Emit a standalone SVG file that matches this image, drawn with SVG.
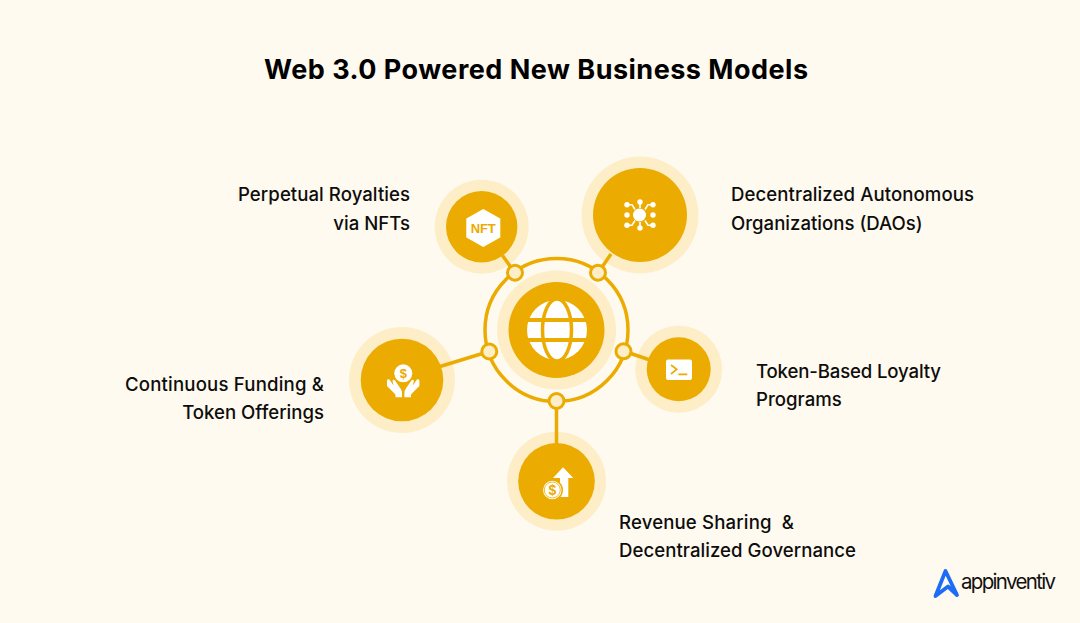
<svg xmlns="http://www.w3.org/2000/svg" width="1080" height="623" viewBox="0 0 1080 623">
<style>
.t{font-family:Inter,"Noto Sans",sans-serif;font-size:18.6px;font-weight:500;fill:#0d0d0d;white-space:pre}
.title{font-family:Inter,"Noto Sans",sans-serif;font-size:27px;font-weight:700;fill:#000}
.e{text-anchor:end}
.pale{fill:#fdeec8}
.gold{fill:#ebab00}
.w{fill:#fff}
.link{stroke:#ebab00;stroke-width:3.5;fill:none}
.dot{fill:#fdeec8;stroke:#ebab00;stroke-width:3}
.gl{stroke:#ebab00;fill:none}
.wl{stroke:#fff;fill:none;stroke-width:1.6}
.sym{font-family:"Liberation Sans",sans-serif;font-weight:700;fill:#ebab00;text-anchor:middle}
</style>
<rect width="1080" height="623" fill="#fffaef"/>
<text class="title" x="536" y="79" text-anchor="middle" textLength="544">Web 3.0 Powered New Business Models</text>
<g id="hub">
<circle cx="556.5" cy="330" r="71.5" fill="none" stroke="#ebab00" stroke-width="3.5"/>
<circle class="pale" cx="556.5" cy="330" r="59.5"/>
<circle class="gold" cx="556.5" cy="330" r="48"/>
<circle class="w" cx="557" cy="330" r="30"/>
<ellipse class="gl" stroke-width="3.5" cx="557" cy="330" rx="14.5" ry="31"/>
<line class="gl" stroke-width="3.8" x1="525" y1="320" x2="589" y2="320"/>
<line class="gl" stroke-width="3.8" x1="525" y1="340" x2="589" y2="340"/>
</g>
<g id="node-nft">
<circle class="pale" cx="481.7" cy="226.7" r="47"/>
<circle class="gold" cx="481.7" cy="226.7" r="35.7"/>
<path class="w" stroke="#fff" stroke-width="2" stroke-linejoin="round" d="M483.3 210L499.3 219V237L483.3 246L467.3 237V219Z"/>
<text class="sym" x="483.3" y="232.700" font-size="13" textLength="25">NFT</text>
</g>
<g id="node-dao">
<circle class="pale" cx="640" cy="215" r="58.5"/>
<circle class="gold" cx="640" cy="215" r="47"/>
<circle class="w" cx="639.5" cy="215" r="6.5"/>
<g class="w">
<circle cx="640" cy="202" r="2.7"/><circle cx="640" cy="228" r="2.7"/>
<circle cx="627" cy="215" r="2.7"/><circle cx="653" cy="215" r="2.7"/>
<circle cx="627" cy="204.7" r="2.7"/><circle cx="653" cy="204.7" r="2.7"/>
<circle cx="627" cy="225.3" r="2.7"/><circle cx="653" cy="225.3" r="2.7"/>
</g>
<path class="wl" d="M627 204.7H632L635 209.5M653 204.7H648L645 209.5M627 225.3H632L635 220.5M653 225.3H648L645 220.5M640 202V208M640 228V222"/>
</g>
<g id="node-token">
<circle class="pale" cx="678.7" cy="369.3" r="43.5"/>
<circle class="gold" cx="678.7" cy="369.3" r="32"/>
<rect class="w" x="666" y="359.5" width="26" height="20.5" rx="2"/>
<path class="gl" stroke-width="1.7" d="M671 365L676.7 369.3L671 374M678.3 374.3H687.3"/>
</g>
<g id="node-funding">
<circle class="pale" cx="402" cy="380" r="53"/>
<circle class="gold" cx="402" cy="380" r="41.3"/>
<circle class="w" cx="403.3" cy="373.3" r="9"/>
<text class="sym" x="403.3" y="378" font-size="13">$</text>
<path class="w" d="M387 386V380.5Q387.5 378.500 389.500 379.500L393.500 385.500L392.500 380.500Q393.500 379 395 380.500L400.500 388.500Q402 390.500 402 393V397.300H395.500V395Q395 393.500 393.500 392.500Z"/>
<path class="w" d="M419.400 386V380.500Q418.900 378.500 416.900 379.500L412.900 385.500L413.900 380.500Q412.900 379 411.400 380.500L405.900 388.500Q404.400 390.500 404.400 393V397.300H410.900V395Q411.400 393.500 412.900 392.500Z"/>
</g>
<g id="node-revenue">
<circle class="pale" cx="556.500" cy="481.300" r="49.500"/>
<circle class="gold" cx="556.500" cy="481.300" r="38.300"/>
<path class="w" d="M563 467.300L573.300 478H568.300V497H560V478H553Z"/>
<circle class="w" stroke="#ebab00" stroke-width="1.500" cx="552.300" cy="490" r="10"/>
<circle fill="none" stroke="#ebab00" stroke-width=".8" cx="552.300" cy="490" r="8"/>
<text class="sym" x="552.300" y="495" font-size="14" font-weight="400">$</text>
</g>
<g id="connectors">
<line class="link" x1="502.500" y1="255.500" x2="515" y2="273"/>
<line class="link" x1="611" y1="254" x2="598" y2="273"/>
<line class="link" x1="623.500" y1="351" x2="650" y2="360"/>
<line class="link" x1="489" y1="351.500" x2="440" y2="366.500"/>
<line class="link" x1="556.500" y1="401" x2="556.500" y2="445"/>
</g>
<g id="anchors">
<circle class="dot" cx="515" cy="272.700" r="7.500"/>
<circle class="dot" cx="598" cy="272.700" r="7.500"/>
<circle class="dot" cx="623.500" cy="351.300" r="7.500"/>
<circle class="dot" cx="489.300" cy="351.500" r="7.500"/>
<circle class="dot" cx="556.500" cy="401" r="7.500"/>
</g>
<g id="labels">
<text class="t" x="238" y="201" textLength="172">Perpetual Royalties</text>
<text class="t e" x="410" y="230">via NFTs</text>
<text class="t" x="731" y="201" textLength="243">Decentralized Autonomous</text>
<text class="t" x="731" y="230">Organizations (DAOs)</text>
<text class="t" x="756" y="378" textLength="185">Token-Based Loyalty</text>
<text class="t" x="756" y="406">Programs</text>
<text class="t" x="125" y="391" textLength="199">Continuous Funding &amp;</text>
<text class="t e" x="324" y="419">Token Offerings</text>
<text class="t" x="619" y="529" textLength="175">Revenue Sharing  &amp;</text>
<text class="t" x="619" y="557" textLength="237">Decentralized Governance</text>
</g>
<g id="logo">
<path d="M935.500 596L945.500 571L957 595L948 586.500Z" fill="none" stroke="#1c6cf5" stroke-width="3.800" stroke-linejoin="round"/>
<text x="961" y="589" font-family="Inter,sans-serif" font-size="20.500" font-weight="400" fill="#111" textLength="95">appinventiv</text>
</g>
</svg>
